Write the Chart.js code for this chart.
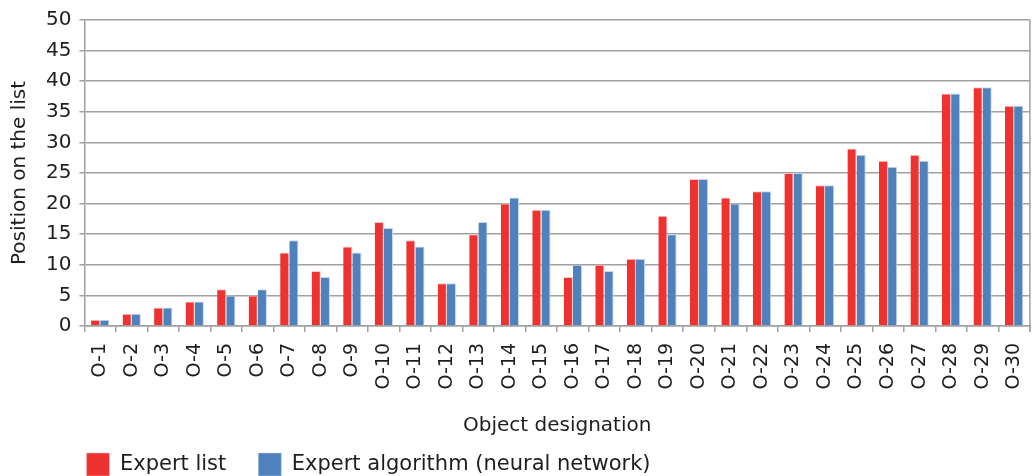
<!DOCTYPE html>
<html>
<head>
<meta charset="utf-8">
<script src="https://cdn.jsdelivr.net/npm/chart.js@4/dist/chart.umd.min.js"></script>
<style>
  html, body { margin: 0; padding: 0; overflow: hidden; background: #fff; }
  #wrap { width: 1048px; height: 507px; position: relative; }
</style>
</head>
<body>
<div id="wrap"><canvas id="chart"></canvas></div>
<script>
// Dados
const categorias = ['O-1','O-2','O-3','O-4','O-5','O-6','O-7','O-8','O-9','O-10',
  'O-11','O-12','O-13','O-14','O-15','O-16','O-17','O-18','O-19','O-20',
  'O-21','O-22','O-23','O-24','O-25','O-26','O-27','O-28','O-29','O-30'];
const listaEspecialista = [1,2,3,4,6,5,12,9,13,17,14,7,15,20,19,8,10,11,18,24,21,22,25,23,29,27,28,38,39,36];
const algoritmoEspecialista = [1,2,3,4,5,6,14,8,12,16,13,7,17,21,19,10,9,11,15,24,20,22,25,23,28,26,27,38,39,36];
const nomesSeries = ['Expert list', 'Expert algorithm (neural network)'];

const corTexto = '#1e1e1e';
const corGrade = '#a0a0a0';
const fonte = 'DejaVu Sans';
const paddingLegenda = 32;

// Borda direita da área do gráfico + legenda alinhada com o eixo
const ajustes = {
  id: 'ajustes',
  afterLayout(chart) {
    chart.legend.left = chart.chartArea.left + 2 - paddingLegenda;
    chart.legend.top -= 21; // legenda mais perto do título do eixo
  },
  afterDraw(chart) {
    const a = chart.chartArea;
    const ctx = chart.ctx;
    ctx.save();
    ctx.strokeStyle = corGrade;
    ctx.lineWidth = 1.5;
    ctx.beginPath();
    ctx.moveTo(a.right, a.top);
    ctx.lineTo(a.right, a.bottom + 6);
    ctx.stroke();
    ctx.restore();
  }
};

new Chart(document.getElementById('chart'), {
  type: 'bar',
  data: {
    labels: categorias,
    datasets: [
      {
        label: nomesSeries[0],
        data: listaEspecialista,
        backgroundColor: '#ee3230',
        borderColor: '#f9c9c8',
        borderWidth: { top: 1, right: 1, left: 0, bottom: 0 },
        barPercentage: 1.0,
        categoryPercentage: 0.58
      },
      {
        label: nomesSeries[1],
        data: algoritmoEspecialista,
        backgroundColor: '#4f81bd',
        borderColor: '#c6d6ea',
        borderWidth: { top: 1, right: 1, left: 0, bottom: 0 },
        barPercentage: 1.0,
        categoryPercentage: 0.58
      }
    ]
  },
  options: {
    responsive: true,
    maintainAspectRatio: false,
    animation: false,
    layout: { padding: { top: 20, right: 4, left: 8, bottom: 0 } },
    plugins: {
      tooltip: { enabled: false },
      legend: {
        position: 'bottom',
        align: 'start',
        labels: {
          color: corTexto,
          font: { family: fonte, size: 21 },
          boxWidth: 23,
          boxHeight: 23,
          padding: paddingLegenda
        }
      }
    },
    scales: {
      x: {
        offset: true,
        grid: {
          offset: true,
          drawOnChartArea: false,
          drawTicks: true,
          tickLength: 6,
          color: corGrade,
          lineWidth: 1.5
        },
        border: { color: corGrade, width: 1.5 },
        ticks: {
          color: corTexto,
          font: { family: fonte, size: 19 },
          minRotation: 90,
          maxRotation: 90,
          autoSkip: false,
          padding: 11
        },
        title: {
          display: true,
          text: 'Object designation',
          color: corTexto,
          font: { family: fonte, size: 20 },
          padding: { top: 13.5, bottom: 4 }
        }
      },
      y: {
        min: 0,
        max: 50,
        ticks: {
          stepSize: 5,
          color: corTexto,
          font: { family: fonte, size: 20 },
          padding: 8
        },
        grid: {
          color: corGrade,
          lineWidth: 1.5,
          tickLength: 5
        },
        border: { color: corGrade, width: 1.5 },
        title: {
          display: true,
          text: 'Position on the list',
          color: corTexto,
          font: { family: fonte, size: 20 },
          padding: { top: 0, bottom: 6 }
        }
      }
    }
  },
  plugins: [ajustes]
});
</script>
</body>
</html>
